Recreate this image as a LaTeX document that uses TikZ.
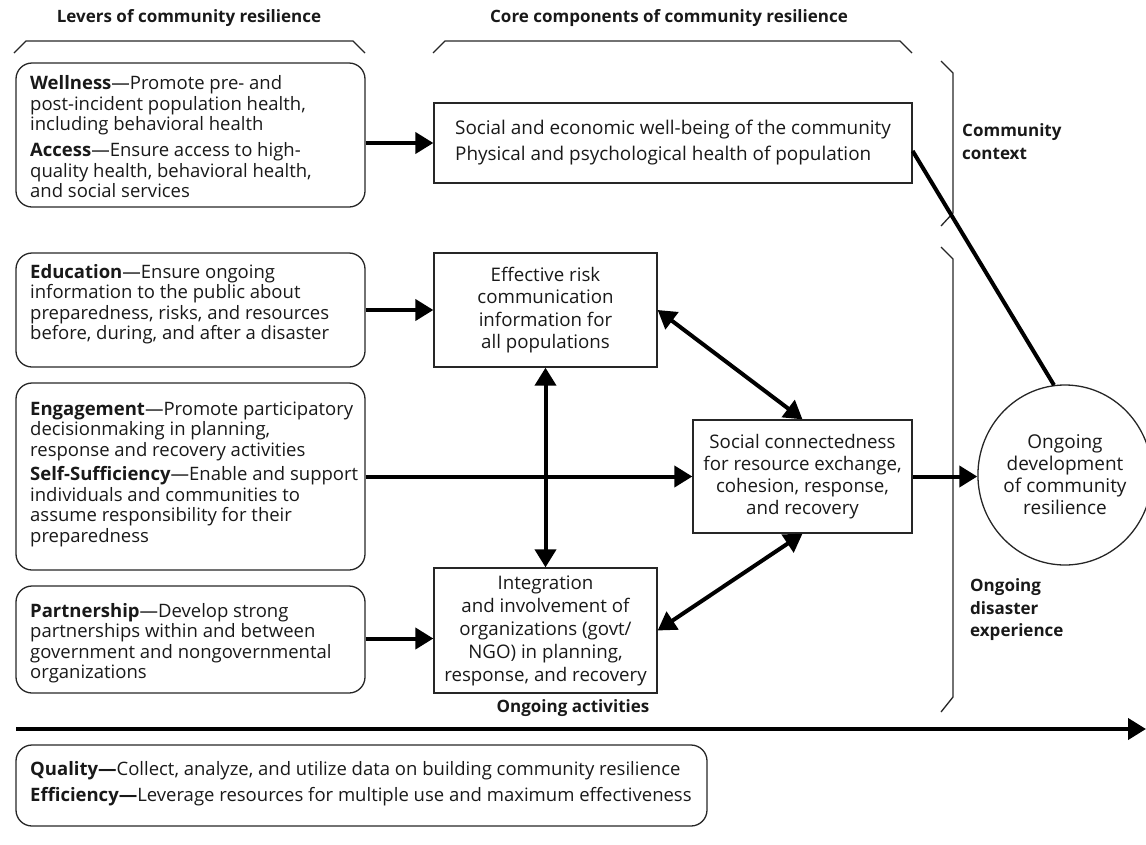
\documentclass[tikz,border=0pt]{standalone}
\usepackage{fontspec}
\setmainfont{Open Sans}
\usetikzlibrary{arrows.meta,shapes.geometric}
\begin{document}
\begin{tikzpicture}[x=1pt,y=-1pt,
  lbox/.style={draw=black!85, line width=1.3pt, rounded corners=16pt, minimum width=349pt, inner sep=0pt},
  ltext/.style={anchor=west, align=left, inner sep=0pt, text=black!90, font=\fontsize{18.5}{20.5}\selectfont},
  cbox/.style={draw=black!85, line width=1.3pt, inner sep=0pt, align=center, text=black!90},
  flow/.style={line width=4pt, -{Triangle[length=18pt,width=21pt]}},
  both/.style={line width=4pt, {Triangle[length=18pt,width=21pt]}-{Triangle[length=18pt,width=21pt]}},
  brk/.style={line width=1.3pt, draw=black!85},
  ttl/.style={font=\bfseries\fontsize{17}{22}\selectfont, inner sep=0pt, text=black!90},
  side/.style={anchor=west, align=left, inner sep=0pt, text=black!90, font=\bfseries\fontsize{17}{22.5}\selectfont}
]
\useasboundingbox (0,0) rectangle (1146,844);

% titles
\node[ttl] (t1) at (189,18) {Levers of community resilience};
\node[ttl] (t2) at (669,18) {Core components of community resilience};

% brackets
\draw[brk] (14,53) -- (26,41) -- (353,41) -- (365,53);
\draw[brk] (433,53) -- (445,41) -- (900,41) -- (912,53);
\draw[brk] (941,61) -- (953,73) -- (953,213) -- (941,226);
\draw[brk] (941,247) -- (953,259) -- (953,697) -- (941,712);

% lever boxes
\node[lbox, minimum height=144pt] (lev1) at (190.5,135) {};
\node[lbox, minimum height=114pt] (lev2) at (190.5,310) {};
\node[lbox, minimum height=187pt] (lev3) at (190.5,476.5) {};
\node[lbox, minimum height=107pt] (lev4) at (190.5,639.5) {};

\node[ltext] (lev1t) at (30,137) {\textbf{Wellness}—Promote pre- and\\post-incident population health,\\including behavioral health\\[5.5pt]\textbf{Access}—Ensure access to high-\\quality health, behavioral health,\\and social services};
\node[ltext] (lev2t) at (30,304) {\textbf{Education}—Ensure ongoing\\information to the public about\\preparedness, risks, and resources\\before, during, and after a disaster};
\node[ltext] (lev3t) at (30,474) {\textbf{Engagement}—Promote participatory\\decisionmaking in planning,\\response and recovery activities\\[4pt]\textbf{Self-Sufficiency}—Enable and support\\individuals and communities to\\assume responsibility for their\\preparedness};
\node[ltext] (lev4t) at (30,643) {\textbf{Partnership}—Develop strong\\partnerships within and between\\government and nongovernmental\\organizations};

% core components
\node[cbox, align=left, minimum width=478pt, minimum height=80pt, font=\fontsize{18.9}{26}\selectfont] (core) at (673,143) {Social and economic well-being of the community\\Physical and psychological health of population};
\node[cbox, minimum width=223pt, minimum height=114pt, font=\fontsize{18.7}{22.5}\selectfont] (eff) at (545.5,310) {Effective risk\\communication\\information for\\all populations};
\node[cbox, minimum width=223pt, minimum height=125pt, font=\fontsize{18.7}{23}\selectfont] (integ) at (545.5,630.5) {Integration\\and involvement of\\organizations (govt/\\NGO) in planning,\\response, and recovery};
\node[cbox, minimum width=219pt, minimum height=113pt, font=\fontsize{18.7}{22}\selectfont] (soc) at (802.5,476.5) {Social connectedness\\for resource exchange,\\cohesion, response,\\and recovery};
\node[ellipse, draw=black!85, line width=1.3pt, inner sep=0pt, minimum width=160pt, minimum height=180pt, align=center, text=black!90, font=\fontsize{19}{22}\selectfont] (circ) at (1065,475) {Ongoing\\development\\of community\\resilience};

% side labels
\node[side] (cc) at (962,141.5) {Community\\context};
\node[side] (ode) at (970,610) {Ongoing\\disaster\\experience};

% connectors
\coordinate (a4) at ([yshift=-8pt]integ.west);
\draw[flow] (core.west -| lev1.east) -- (core.west);
\draw[flow] (eff.west -| lev2.east) -- (eff.west);
\draw[flow] (soc.west -| lev3.east) -- (soc.west);
\draw[flow] (a4 -| lev4.east) -- (a4);
\draw[both] (eff.south) -- (integ.north);
\draw[both] (eff.east) -- (soc.north);
\draw[both] (integ.east) -- (soc.south);
\draw[flow] (soc.east) -- (soc.east -| circ.west);
\draw[line width=4pt] ([yshift=-8pt]core.east) -- (circ.97);

% ongoing activities
\node[ttl] (oa) at (573,708) {Ongoing activities};
\coordinate (oaL) at (16,729);
\coordinate (oaR) at (1146,729);
\draw[flow] (oaL) -- (oaR);

\node[lbox, minimum width=691pt, minimum height=81pt] (qe) at (361.5,785.5) {};
\node[ltext, font=\fontsize{18.5}{26}\selectfont] (qet) at (30,784) {\textbf{Quality—}Collect, analyze, and utilize data on building community resilience\\\textbf{Efficiency—}Leverage resources for multiple use and maximum effectiveness};
\end{tikzpicture}
\end{document}
